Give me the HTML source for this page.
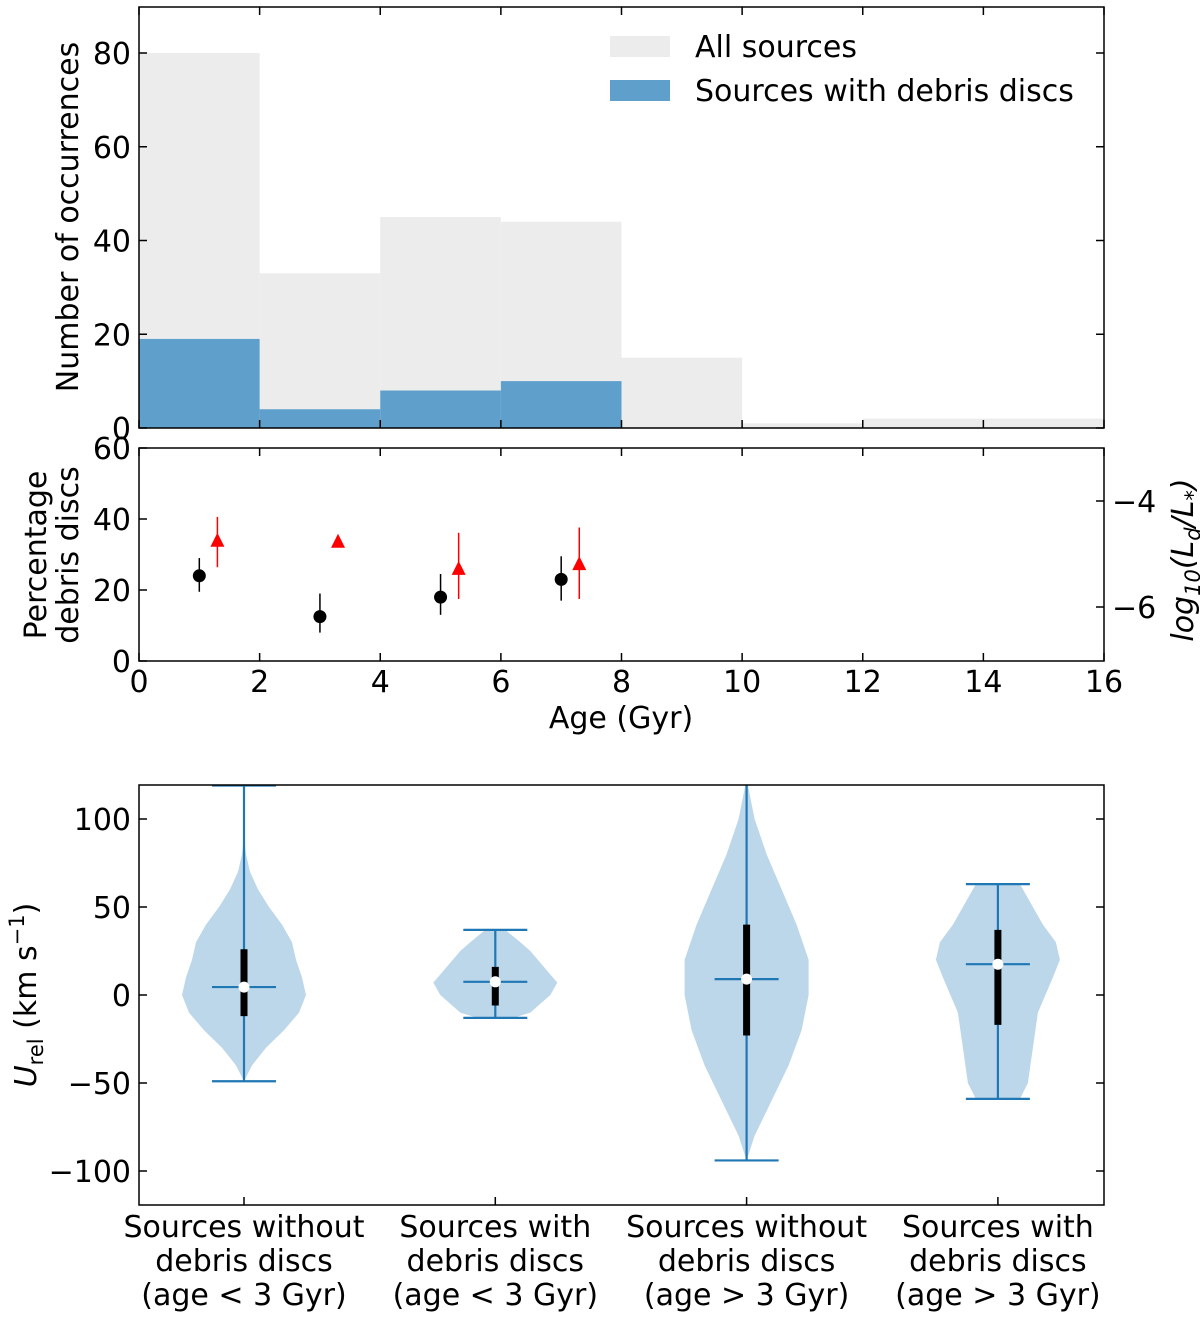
<!DOCTYPE html>
<html><head><meta charset="utf-8"><style>
body{margin:0;background:#fff;}
svg{display:block;font-family:"DejaVu Sans","Liberation Sans",sans-serif;}
</style></head><body>
<svg id="c" width="1200" height="1317" viewBox="0 0 1200 1317"></svg>
<script>
const binEdges=[0,2,4,6,8,10,12,14,16];
const allCounts=[80,33,45,44,15,1,2,2];
const discCounts=[19,4,8,10,0,0,0,0];
const yTicksTop=[0,20,40,60,80];
const pctAges=[1,3,5,7];
const pctVals=[24,12.5,18,23];
const pctLo=[19.5,8,13,17];
const pctHi=[29,19,24.5,29.5];
const lumAges=[1.3,3.3,5.3,7.3];
const lumVals=[-4.75,-4.77,-5.28,-5.19];
const lumLo=[-5.25,-4.77,-5.85,-5.85];
const lumHi=[-4.3,-4.77,-4.6,-4.5];
const xTicks=[0,2,4,6,8,10,12,14,16];
const yTicksMid=[0,20,40,60];
const yTicksRight=[-4,-6];
const violinLabels=[["Sources without","debris discs","(age < 3 Gyr)"],["Sources with","debris discs","(age < 3 Gyr)"],["Sources without","debris discs","(age > 3 Gyr)"],["Sources with","debris discs","(age > 3 Gyr)"]];
const vMin=[-49,-13,-94,-59];
const vMax=[119,37,125,63];
const vMean=[4.5,7.5,9,17.5];
const vMedian=[4.5,7.5,9,17.5];
const vQ1=[-12,-6,-23,-17];
const vQ3=[26,16,40,37];
const vProfVals=[
 [-49,-40,-30,-20,-10,0,10,20,30,40,50,60,70,80,90],
 [-13,-10,0,7,15,25,30,37],
 [-94,-80,-60,-40,-20,0,20,40,60,80,100,120],
 [-59,-50,-30,-10,10,20,30,40,50,63]];
const vProfW=[
 [0,8,22,40,55,62,58,52,48,38,25,14,6,2,0],
 [18,35,55,62,50,35,25,10],
 [0,8,25,42,55,62,62,50,35,20,8,1],
 [22,30,35,40,55,62,58,45,35,22]];
const yTicksBot=[-100,-50,0,50,100];

const NS="http://www.w3.org/2000/svg";
const svg=document.getElementById('c');
const FS=30;
function el(t,a,p){const e=document.createElementNS(NS,t);for(const k in a)e.setAttribute(k,a[k]);(p||svg).appendChild(e);return e;}
function txt(x,y,s,a,p){const e=el('text',Object.assign({x:x,y:y,'font-size':FS,fill:'#000'},a||{}),p);e.textContent=s;return e;}
const L=139,R=1104;
const xs=v=>L+(v-0)/16*(R-L);
const T0=7,T1=428;const yT=v=>T1-v/80*(T1-53);
const gTop=el('g',{});
for(let i=0;i<allCounts.length;i++){const r=el('rect',{x:xs(binEdges[i]),y:yT(allCounts[i]),width:xs(binEdges[i+1])-xs(binEdges[i]),height:T1-yT(allCounts[i]),fill:'#ececec'},gTop);}
for(let i=0;i<discCounts.length;i++){if(!discCounts[i])continue;const r=el('rect',{x:xs(binEdges[i]),y:yT(discCounts[i]),width:xs(binEdges[i+1])-xs(binEdges[i]),height:T1-yT(discCounts[i]),fill:'#5f9fcb'},gTop);}
el('rect',{x:L,y:T0,width:R-L,height:T1-T0,fill:'none',stroke:'#000','stroke-width':1.5});
yTicksTop.forEach(v=>{el('line',{x1:L,x2:L+8,y1:yT(v),y2:yT(v),stroke:'#000','stroke-width':1.5});el('line',{x1:R,x2:R-8,y1:yT(v),y2:yT(v),stroke:'#000','stroke-width':1.5});txt(L-8,yT(v)+11,String(v),{'text-anchor':'end'});});
xTicks.forEach(v=>{el('line',{x1:xs(v),x2:xs(v),y1:T1,y2:T1-8,stroke:'#000','stroke-width':1.5});el('line',{x1:xs(v),x2:xs(v),y1:T0,y2:T0+8,stroke:'#000','stroke-width':1.5});});
const yl=txt(78,217,'Number of occurrences',{'text-anchor':'middle',transform:'rotate(-90 78 217)'});
const lg=el('g',{});
el('rect',{x:610,y:36,width:60,height:21,fill:'#ececec'},lg);txt(695,57,'All sources',{},lg);
el('rect',{x:610,y:80,width:60,height:21,fill:'#5f9fcb'},lg);txt(695,101,'Sources with debris discs',{},lg);
const M0=448,M1=661;const yM=v=>M1-v/60*(M1-M0);const yR=v=>501+(v+4)*(-53);
el('rect',{x:L,y:M0,width:R-L,height:M1-M0,fill:'none',stroke:'#000','stroke-width':1.5});
yTicksMid.forEach(v=>{el('line',{x1:L,x2:L+8,y1:yM(v),y2:yM(v),stroke:'#000','stroke-width':1.5});txt(L-8,yM(v)+11,String(v),{'text-anchor':'end'});});
yTicksRight.forEach(v=>{el('line',{x1:R,x2:R-8,y1:yR(v),y2:yR(v),stroke:'#000','stroke-width':1.5});txt(R+8,yR(v)+11,'\u2212'+Math.abs(v));});
xTicks.forEach(v=>{el('line',{x1:xs(v),x2:xs(v),y1:M1,y2:M1-8,stroke:'#000','stroke-width':1.5});el('line',{x1:xs(v),x2:xs(v),y1:M0,y2:M0+8,stroke:'#000','stroke-width':1.5});txt(xs(v),692,String(v),{'text-anchor':'middle'});});
txt(621,728,'Age (Gyr)',{'text-anchor':'middle'});
txt(46,555,'Percentage',{'text-anchor':'middle',transform:'rotate(-90 46 555)'});
txt(78,555,'debris discs',{'text-anchor':'middle',transform:'rotate(-90 78 555)'});
const rl=el('text',{x:1193,y:560,'font-size':FS,'font-style':'italic','text-anchor':'middle',transform:'rotate(-90 1193 560)'});
rl.innerHTML='log<tspan font-size="21" dy="7">10</tspan><tspan dy="-7">(L</tspan><tspan font-size="21" dy="7">d</tspan><tspan dy="-7">/L</tspan><tspan font-size="21" dy="7">*</tspan><tspan dy="-7">)</tspan>';
pctAges.forEach((a,i)=>{el('line',{x1:xs(a),x2:xs(a),y1:yM(pctLo[i]),y2:yM(pctHi[i]),stroke:'#000','stroke-width':1.5});const c=el('circle',{cx:xs(a),cy:yM(pctVals[i]),r:6.5,fill:'#000'});});
lumAges.forEach((a,i)=>{const x=xs(a),y=yR(lumVals[i]);el('line',{x1:x,x2:x,y1:yR(lumLo[i]),y2:yR(lumHi[i]),stroke:'#f00','stroke-width':1.5});const p=el('polygon',{points:`${x},${y-8} ${x-7},${y+6} ${x+7},${y+6}`,fill:'#f00'});});
const B0=785,B1=1205;const yB=v=>995-v*1.76;const xV=i=>244+i*251.3;
const cp=el('clipPath',{id:'bc'});el('rect',{x:L,y:B0,width:R-L,height:B1-B0},cp);
const gb=el('g',{'clip-path':'url(#bc)'});
vProfVals.forEach((vals,i)=>{const cx=xV(i);const ws=vProfW[i];let pts=[];
 for(let k=0;k<vals.length;k++)pts.push((cx+ws[k])+','+yB(vals[k]));
 for(let k=vals.length-1;k>=0;k--)pts.push((cx-ws[k])+','+yB(vals[k]));
 const p=el('polygon',{points:pts.join(' '),fill:'#bcd6ea'},gb);
 el('line',{x1:cx,x2:cx,y1:yB(vMin[i]),y2:yB(vMax[i]),stroke:'#1f77b4','stroke-width':2.2},gb);
 el('line',{x1:cx-32,x2:cx+32,y1:yB(vMin[i]),y2:yB(vMin[i]),stroke:'#1f77b4','stroke-width':2.2},gb);
 if(vMax[i]<120)el('line',{x1:cx-32,x2:cx+32,y1:yB(vMax[i]),y2:yB(vMax[i]),stroke:'#1f77b4','stroke-width':2.2},gb);
 el('line',{x1:cx-32,x2:cx+32,y1:yB(vMean[i]),y2:yB(vMean[i]),stroke:'#1f77b4','stroke-width':2.2},gb);
 el('line',{x1:cx,x2:cx,y1:yB(vQ1[i]),y2:yB(vQ3[i]),stroke:'#000','stroke-width':7},gb);
 el('circle',{cx:cx,cy:yB(vMedian[i]),r:5.5,fill:'#fff'},gb);
 violinLabels[i].forEach((s,j)=>txt(cx,1237+j*34,s,{'text-anchor':'middle'}));
 el('line',{x1:cx,x2:cx,y1:B1,y2:B1-8,stroke:'#000','stroke-width':1.5});
});
el('rect',{x:L,y:B0,width:R-L,height:B1-B0,fill:'none',stroke:'#000','stroke-width':1.5});
yTicksBot.forEach(v=>{el('line',{x1:L,x2:L+8,y1:yB(v),y2:yB(v),stroke:'#000','stroke-width':1.5});el('line',{x1:R,x2:R-8,y1:yB(v),y2:yB(v),stroke:'#000','stroke-width':1.5});txt(L-8,yB(v)+11,v<0?'\u2212'+Math.abs(v):String(v),{'text-anchor':'end'});});
const bl=el('text',{x:36,y:995,'font-size':FS,'text-anchor':'middle',transform:'rotate(-90 36 995)'});
bl.innerHTML='<tspan font-style="italic">U</tspan><tspan font-size="21" dy="7">rel</tspan><tspan dy="-7"> (km s</tspan><tspan font-size="21" dy="-12">\u22121</tspan><tspan dy="12">)</tspan>';
</script>
</body></html>
